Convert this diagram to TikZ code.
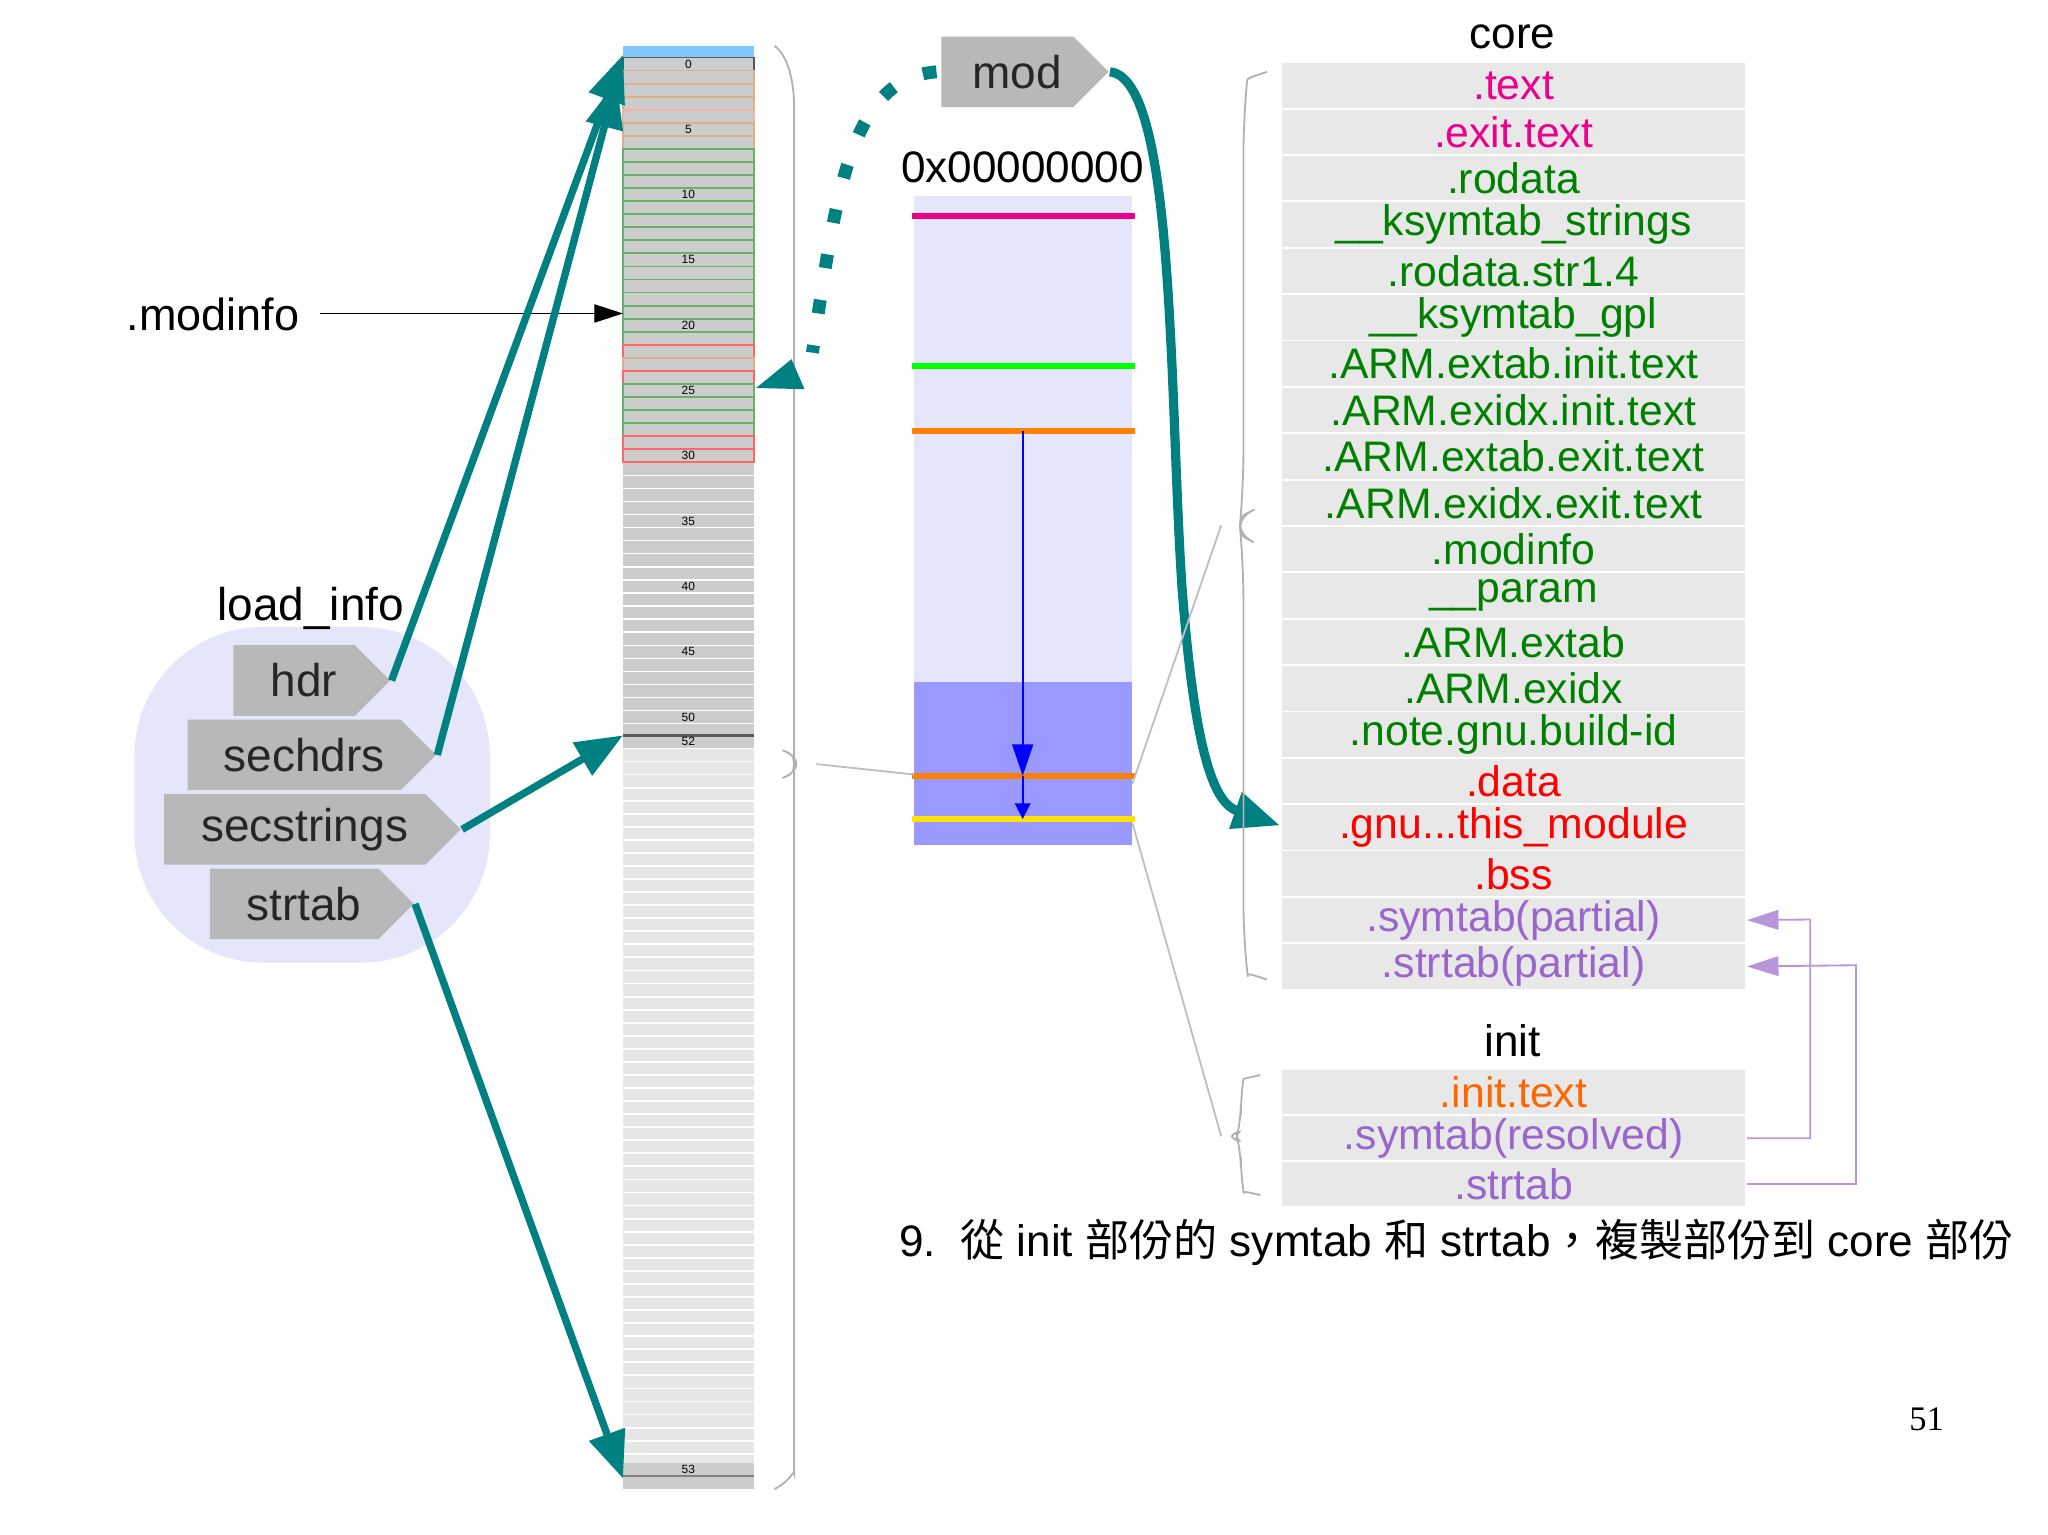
\documentclass[tikz,border=0pt]{standalone}
\usepackage{fontspec}
\setmainfont{Liberation Sans}
\newfontfamily\cjk{Noto Sans CJK TC}
\usetikzlibrary{arrows.meta,shapes.symbols}
\newcommand\gnuname{.gnu...this\_module}
\definecolor{teal1}{RGB}{0,128,128}
\definecolor{rowg}{RGB}{204,204,204}
\definecolor{rowl}{RGB}{230,230,230}
\definecolor{tab}{RGB}{232,232,232}
\definecolor{purp}{RGB}{153,102,204}
\definecolor{grn}{RGB}{0,128,0}
\definecolor{lav}{RGB}{230,230,250}
\definecolor{blu}{RGB}{153,153,255}
\begin{document}
\begin{tikzpicture}[x=0.01cm,y=-0.01cm,
  sig/.style={signal,signal to=east,fill=rowg!90!black,draw=none,minimum height=0.54cm,inner sep=0pt,anchor=west,font=\fontsize{10}{12}\selectfont,text=black!85},
  tarr/.style={teal1,line width=1.6pt,-{Triangle[length=0.36cm,width=0.28cm]}},
  big/.style={font=\fontsize{9.5}{11}\selectfont},
  tr/.style={fill=tab,draw=white,line width=0.4pt,minimum width=3.56cm,minimum height=0.355cm,inner sep=0pt,font=\fontsize{9.3}{11}\selectfont,anchor=north west},
  brace/.style={gray!60,line width=0.4pt,rounded corners=8pt},
  mline/.style={line width=1.3pt}]
\useasboundingbox (0,0) rectangle (1568,1175);
% memory column
\fill[blue!45!cyan!50] (477,35) rectangle (577,44);
\foreach \i in {0,...,51}{\fill[rowg] (477,44+10*\i) rectangle (577,54+10*\i);
  \draw[white,line width=0.3pt] (477,44+10*\i)--(577,44+10*\i);}
\foreach \i in {0,...,54}{\fill[rowl] (477,573+10*\i) rectangle (577,583+10*\i);
  \draw[white,line width=0.4pt] (477,573+10*\i)--(577,573+10*\i);}
\fill[rowg] (477,563) rectangle (577,573);
\fill[rowg] (477,1120) rectangle (577,1140);
\draw[gray,line width=0.3pt] (477,1130)--(577,1130);
\draw[gray!70!black,line width=0.5pt] (477,563)--(577,563);
\draw[gray!70!black,line width=0.4pt] (477,44) rectangle (577,54);
\foreach \i/\c in {1/brown!60,2/brown!60,3/brown!60,4/pink!80!brown,5/brown!60,6/brown!60,7/green!50!black!60,8/green!50!black!60,9/green!50!black!60,10/green!50!black!60,11/green!50!black!60,12/green!50!black!60,13/green!50!black!60,14/green!50!black!60,15/green!50!black!60,16/green!50!black!60,17/green!50!black!60,18/green!50!black!60,19/green!50!black!60,20/green!50!black!60,21/green!50!black!60,22/red!60,23/brown!60,24/red!60,25/green!50!black!60,26/green!50!black!60,27/green!50!black!60,28/green!50!black!60,29/red!60}
  {\draw[\c,line width=0.4pt] (477,44+10*\i) rectangle (577,54+10*\i);}
\draw[red!60,line width=0.4pt] (477,344) rectangle (577,354);
\foreach \n in {0,5,...,50}{\node[font=\fontsize{2.6}{3}\selectfont,inner sep=0pt] at (527,49+10*\n) {\n};}
\node[font=\fontsize{2.6}{3}\selectfont,inner sep=0pt] at (527,568) {52};
\node[font=\fontsize{2.6}{3}\selectfont,inner sep=0pt] at (527,1125) {53};
\coordinate (col0) at (477,42);
\coordinate (col0b) at (472,62);
\coordinate (col52) at (477,563);
\coordinate (col53) at (477,1132);
\coordinate (col25) at (578,298);
\coordinate (col19) at (477,240);
% big brace
\draw[brace] (593,35) .. controls (606,45) and (608,70) .. (608,110) -- (608,565) .. controls (608,578) .. (625,585) .. controls (608,592) .. (608,605) -- (608,1100) .. controls (608,1125) and (604,1135) .. (593,1140);
\coordinate (bp) at (625,585);
% modinfo
\node[big,font=\fontsize{9.8}{12}\selectfont] (modinfo) at (163,241) {.modinfo};
\draw[line width=0.3pt,-{Triangle[length=0.22cm,width=0.14cm]}] (245,240) -- (col19);
% load_info
\fill[lav] (103,480) [rounded corners=28pt] rectangle (375,737);
\node[font=\fontsize{10}{12}\selectfont] (li) at (238,466) {load\_info};
\node[sig,minimum width=1.20cm] (hdr) at (178,521) {\hspace{0.15cm}hdr\hspace{0.3cm}};
\node[sig,minimum width=1.90cm] (sechdrs) at (143,578) {\hspace{0.15cm}sechdrs\hspace{0.3cm}};
\node[sig,minimum width=2.27cm] (secstrings) at (125,635) {\hspace{0.15cm}secstrings\hspace{0.3cm}};
\node[sig,minimum width=1.56cm] (strtab) at (160,692) {\hspace{0.15cm}strtab\hspace{0.3cm}};
\draw[tarr] (hdr.east) -- (col0);
\draw[tarr] (sechdrs.east) -- (col0b);
\draw[tarr] (secstrings.east) -- (col52);
\draw[tarr] (strtab.east) -- (col53);
% mod
\node[sig,minimum width=1.28cm,anchor=west] (mod) at (720,55) {\hspace{0.15cm}mod\hspace{0.3cm}};
\draw[teal1,line width=2.8pt,dash pattern=on 3pt off 7pt] (mod.west) ++(-3,0) .. controls (650,60) and (640,150) .. (622,270);
\fill[teal1] (579,297) -- (606,275) -- (616,298) -- cycle;
\coordinate (gnu) at (980,632);
\draw[tarr,line width=2pt] (mod.east) .. controls (900,60) and (895,300) .. (905,450) .. controls (915,580) and (930,615) .. (gnu);
\node[font=\fontsize{9.6}{12}\selectfont] (addr) at (783,128) {0x00000000};
% memory image
\fill[lav] (700,150) rectangle (867,522);
\fill[blu] (700,522) rectangle (867,647);
\draw[mline,magenta] (698,165) -- (869,165);
\draw[mline,green] (698,280) -- (869,280);
\draw[mline,orange] (698,330) -- (869,330);
\draw[mline,orange] (698,594) -- (869,594);
\draw[mline,yellow!85!orange] (698,627) -- (869,627);
\coordinate (o1) at (783,330);
\coordinate (o2) at (783,594);
\coordinate (o3) at (783,627);
\draw[blue,line width=0.4pt,-{Triangle[length=0.24cm,width=0.16cm]}] (o1) -- (o2);
\draw[blue,line width=0.4pt,-{Triangle[length=0.12cm,width=0.12cm]}] (o2) -- (o3);
\draw[gray!50,line width=0.4pt] (bp) -- (700,593);
% core table
\node[font=\fontsize{9.6}{12}\selectfont] (coret) at (1158,28) {core};
\foreach \t/\c [count=\k from 0] in {.text/magenta,.exit.text/magenta,.rodata/grn,\_\_ksymtab\_strings/grn,.rodata.str1.4/grn,\_\_ksymtab\_gpl/grn,.ARM.extab.init.text/grn,.ARM.exidx.init.text/grn,.ARM.extab.exit.text/grn,.ARM.exidx.exit.text/grn,.modinfo/grn,\_\_param/grn,.ARM.extab/grn,.ARM.exidx/grn,.note.gnu.build-id/grn,.data/red,\gnuname/red,.bss/red,.symtab(partial)/purp,.strtab(partial)/purp}
  {\node[tr,text=\c] (c\k) at (980,47+35.5*\k) {\t};}
\node[font=\fontsize{9.6}{12}\selectfont] (initt) at (1158,797) {init};
\node[tr,text=orange!80!red] (i0) at (980,818) {.init.text};
\node[tr,text=purp] (i1) at (980,853) {.symtab(resolved)};
\node[tr,text=purp] (i2) at (980,888) {.strtab};
% braces
\draw[brace] (970,55) .. controls (955,60) .. (952,90) -- (952,375) .. controls (950,395) .. (935,402) .. controls (950,410) .. (952,430) -- (952,720) .. controls (955,745) .. (970,750);
\draw[brace,rounded corners=4pt] (965,823) .. controls (952,826) .. (950,840) -- (950,860) .. controls (948,867) .. (935,870) .. controls (948,873) .. (950,880) -- (950,900) .. controls (952,912) .. (965,915);
\draw[gray!50,line width=0.4pt] (867,600) -- (935,402);
\draw[gray!50,line width=0.4pt] (867,630) -- (935,870);
% purple connectors
\draw[purp!70,line width=0.4pt,-{Triangle[length=0.24cm,width=0.15cm]}] (i1.east) -| (1386,704) -- (c18.east);
\draw[purp!70,line width=0.4pt,-{Triangle[length=0.24cm,width=0.15cm]}] (i2.east) -| (1421,739) -- (c19.east);
% caption
\node[anchor=west,font=\fontsize{9.6}{12}\selectfont] (cap) at (676,951) {9.\ \ {\cjk 從} init {\cjk 部份的} symtab {\cjk 和} strtab{\cjk ，複製部份到} core {\cjk 部份}};
\node[font=\fontsize{7.5}{9}\rmfamily] (pg) at (1475,1087) {\fontspec{Liberation Serif}51};
\end{tikzpicture}
\end{document}
